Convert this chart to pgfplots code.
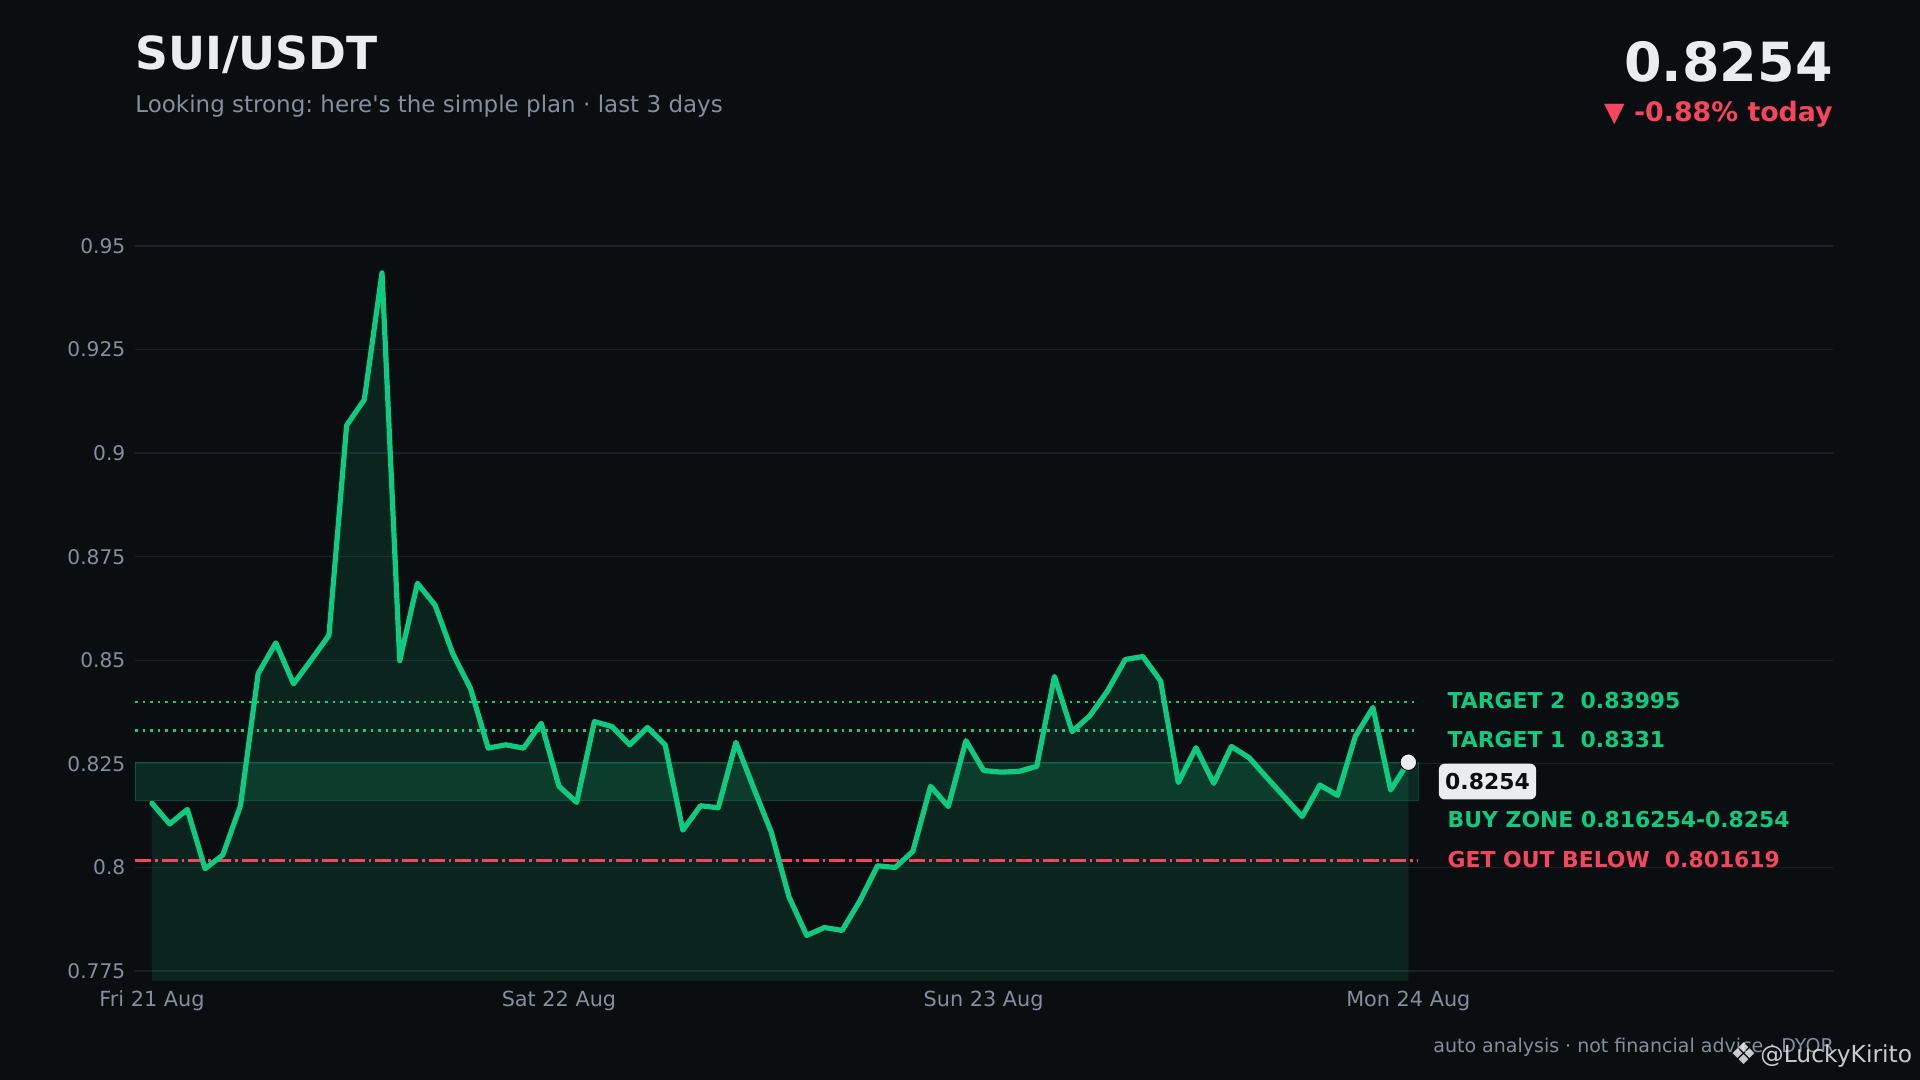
\documentclass[border=0pt]{standalone}
\usepackage{fontspec}
\setmainfont{DejaVu Sans}
\usepackage{pgfplots}
\pgfplotsset{compat=1.18}
\usepackage{pgfplotstable}
\definecolor{bg}{HTML}{0B0E11}
\definecolor{gridc}{HTML}{1C2027}
\definecolor{upgreen}{HTML}{0ECB81}
\definecolor{downred}{HTML}{F6465D}
\definecolor{txtwhite}{HTML}{EAECEF}
\definecolor{txtgrey}{HTML}{848E9C}
\frenchspacing

\pgfplotstableread{
x y
0 0.8155
1 0.8105
2 0.8140
3 0.7997
4 0.8030
5 0.8149
6 0.8468
7 0.8542
8 0.8443
9 0.8501
10 0.8560
11 0.9067
12 0.9129
13 0.9435
14 0.8499
15 0.8686
16 0.8633
17 0.8516
18 0.8432
19 0.8288
20 0.8296
21 0.8288
22 0.8348
23 0.8196
24 0.8157
25 0.8352
26 0.8340
27 0.8296
28 0.8338
29 0.8296
30 0.8090
31 0.8149
32 0.8144
33 0.8302
34 0.8192
35 0.8085
36 0.7929
37 0.7836
38 0.7855
39 0.7848
40 0.7919
41 0.8004
42 0.8000
43 0.8039
44 0.8196
45 0.8147
46 0.8306
47 0.8234
48 0.8230
49 0.8232
50 0.8244
51 0.8461
52 0.8328
53 0.8366
54 0.8426
55 0.8502
56 0.8509
57 0.8450
58 0.8205
59 0.8289
60 0.8203
61 0.8292
62 0.8265
63 0.8217
64 0.8170
65 0.8123
66 0.8199
67 0.8174
68 0.8316
69 0.8386
70 0.8187
71 0.8254
}\pricedata

\begin{document}
\begin{tikzpicture}
\useasboundingbox (0,0) rectangle (960pt,540pt);
\fill[bg] (0,0) rectangle (960pt,540pt);

% header
\node[anchor=base west, inner sep=0pt, text=txtwhite, font=\bfseries\fontsize{22.8}{26}\selectfont] at (67.5pt,505pt) {SUI/USDT};
\node[anchor=base west, inner sep=0pt, text=txtgrey, font=\fontsize{11.5}{13}\selectfont] at (67.5pt,483.5pt) {Looking strong: here\textquotesingle s the simple plan · last 3 days};
\node[anchor=base east, inner sep=0pt, text=txtwhite, font=\bfseries\fontsize{27}{31}\selectfont] at (916.5pt,499.2pt) {0.8254};
\node[anchor=base east, inner sep=0pt, text=downred, font=\bfseries\fontsize{13.4}{15}\selectfont] at (916.5pt,479.3pt) {▼ -0.88\% today};

\begin{axis}[
  at={(67.5pt,49.5pt)}, anchor=south west,
  width=849pt, height=377.9pt, scale only axis,
  xmin=-0.96, xmax=95, ymin=0.7726, ymax=0.955,
  axis line style={draw=none},
  major tick style={draw=none},
  ymajorgrids, grid style={color=gridc, line width=0.6pt},
  ytick={0.775,0.8,0.825,0.85,0.875,0.9,0.925,0.95},
  yticklabels={0.775,0.8,0.825,0.85,0.875,0.9,0.925,0.95},
  xtick={0,23,47,71},
  xticklabels={Fri 21 Aug,Sat 22 Aug,Sun 23 Aug,Mon 24 Aug},
  tick label style={text=txtgrey},
  yticklabel style={anchor=east, inner sep=0pt, xshift=-4.65pt, font=\fontsize{10.1}{12}\selectfont},
  xticklabel style={anchor=base, inner sep=0pt, yshift=-12.85pt, font=\fontsize{10.4}{12}\selectfont},
  /pgf/number format/assume math mode=true,
]
% fill under price
\addplot[draw=none, fill=upgreen, fill opacity=0.12] table[x=x,y=y] {\pricedata} |- (axis cs:0,0.70) -- cycle;
% buy zone
\addplot[fill=upgreen, fill opacity=0.15, draw=upgreen, draw opacity=0.3, line width=0.6pt] coordinates {(-0.96,0.816254) (71.57,0.816254) (71.57,0.8254) (-0.96,0.8254)} -- cycle;
% targets
\addplot[upgreen, line width=1.25pt, dash pattern=on 1.25pt off 2.55pt] coordinates {(-0.96,0.83995) (71.57,0.83995)};
\addplot[upgreen, line width=1.25pt, dash pattern=on 1.25pt off 2.55pt] coordinates {(-0.96,0.8331) (71.57,0.8331)};
% stop
\addplot[downred, line width=1.35pt, dash pattern=on 8pt off 2pt on 1.35pt off 2pt] coordinates {(-0.96,0.801619) (71.57,0.801619)};
% price line
\addplot[upgreen, line width=2.6pt, line join=round, line cap=round] table[x=x,y=y] {\pricedata};
% last point
\addplot[only marks, mark=*, mark size=4.1pt, mark options={fill=txtwhite, draw=none}] coordinates {(71,0.8254)};

% labels
\node[anchor=west, inner sep=0pt, text=upgreen, font=\bfseries\fontsize{10.95}{12}\selectfont] at (axis cs:73.2,0.84037) {TARGET 2\ \ 0.83995};
\node[anchor=west, inner sep=0pt, text=upgreen, font=\bfseries\fontsize{10.95}{12}\selectfont] at (axis cs:73.2,0.83086) {TARGET 1\ \ 0.8331};
\node[anchor=west, fill=txtwhite, text=bg, rounded corners=3pt, inner xsep=3.2pt, inner ysep=4.8pt, font=\bfseries\fontsize{10.95}{12}\selectfont] at (axis cs:72.7,0.82073) {0.8254};
\node[anchor=west, inner sep=0pt, text=upgreen, font=\bfseries\fontsize{10.95}{12}\selectfont] at (axis cs:73.2,0.81156) {BUY ZONE 0.816254-0.8254};
\node[anchor=west, inner sep=0pt, text=downred, font=\bfseries\fontsize{10.95}{12}\selectfont] at (axis cs:73.2,0.80190) {GET OUT BELOW\ \ 0.801619};
\end{axis}

% footer
\node[anchor=base east, inner sep=0pt, text=txtgrey, font=\fontsize{9.5}{11}\selectfont] at (917pt,13.5pt) {auto analysis · not financial advice · DYOR};
\node[anchor=base west, inner sep=0pt, text=txtwhite, opacity=0.85, font=\fontsize{11.7}{13}\selectfont] at (880pt,8.5pt) {@LuckyKirito};
\node[anchor=base east, inner sep=0pt, text=txtwhite, opacity=0.85, font=\fontsize{15}{16}\selectfont] at (879pt,7.5pt) {❖};
\end{tikzpicture}
\end{document}
